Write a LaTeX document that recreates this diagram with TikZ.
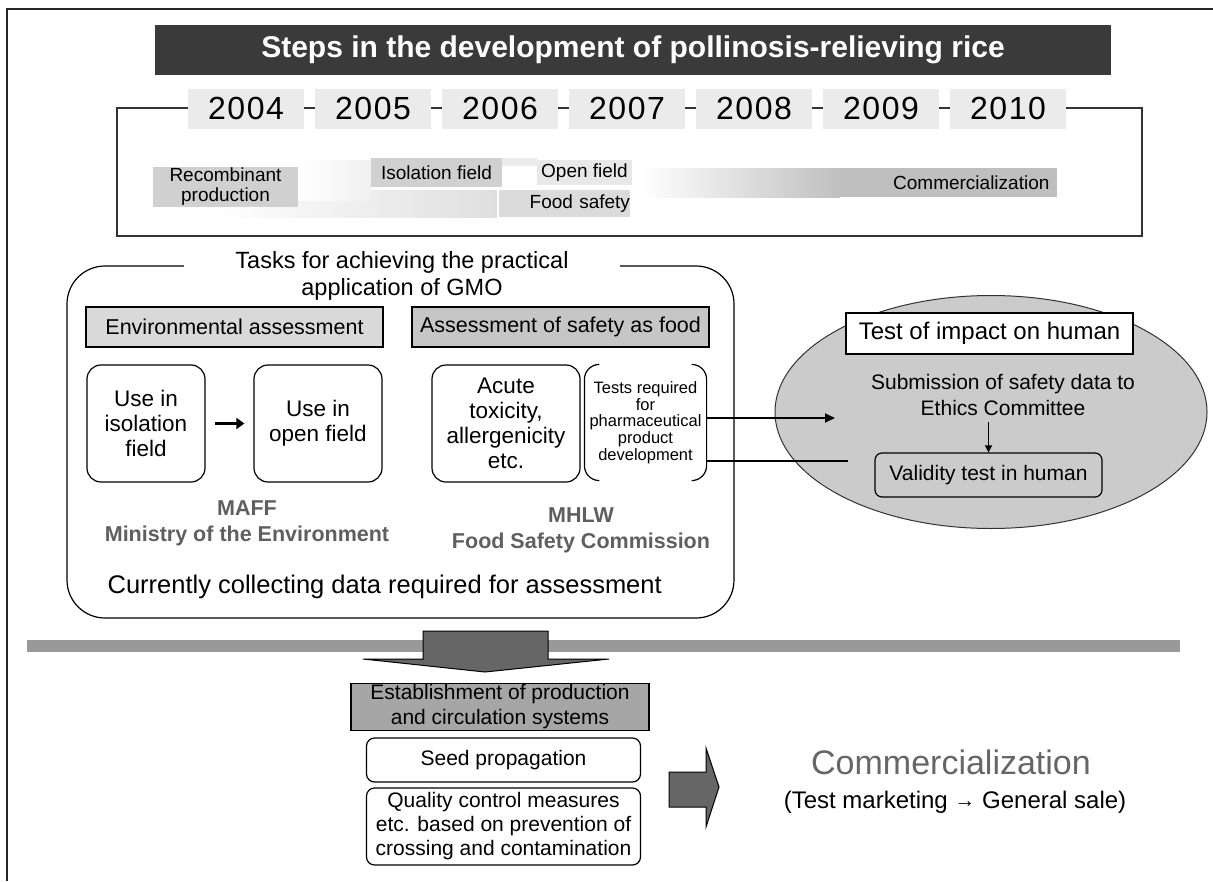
\documentclass[tikz,border=0pt]{standalone}
\usepackage{fontspec}
\setmainfont{Liberation Sans}
\newfontfamily\yearfont[LetterSpace=5]{Liberation Sans}
\usetikzlibrary{shapes.geometric,arrows.meta}
\definecolor{bardark}{HTML}{3A3A3A}
\definecolor{yearbg}{HTML}{EBEBEB}
\definecolor{stagebg}{HTML}{D0D0D0}
\definecolor{envbg}{HTML}{D9D9D9}
\definecolor{foodbg}{HTML}{C6C6C6}
\definecolor{ovalbg}{HTML}{CBCBCB}
\definecolor{estbg}{HTML}{A6A6A6}
\definecolor{blockarr}{HTML}{666666}
\definecolor{ministry}{HTML}{5F5F5F}
\definecolor{commtxt}{HTML}{666666}
\definecolor{rulebar}{HTML}{999999}
\newcommand\fsz[2]{\fontsize{#1}{#2}\selectfont}
\begin{document}
\begin{tikzpicture}[x=1pt,y=-1pt,line width=1.2pt,
  every node/.style={inner sep=0pt,align=center},
  yearbox/.style={fill=yearbg,minimum width=116,minimum height=40,font=\yearfont\fsz{32}{32}},
  stage/.style={fill=stagebg,font=\fsz{19}{20}},
  headbox/.style={draw,minimum width=297,minimum height=40,font=\fsz{21.5}{24}},
  taskbox/.style={draw,rounded corners=14,minimum height=117,font=\fsz{22.5}{25}},
  ministry/.style={text=ministry,font=\bfseries\fsz{21.5}{26}},
  plainbox/.style={draw,rounded corners=8,minimum width=274,font=\fsz{21}{24}},
  linkarrow/.style={line width=1.8pt,-{Triangle[length=10pt,width=9pt]}}]
\useasboundingbox (0,0) rectangle (1213,881);
% page frame
\draw[line width=1.3pt,black!85] (7,881) -- (7,9) -- (1213,9);
% title and time line
\node[fill=bardark,text=white,font=\bfseries\fsz{30}{32},minimum width=956,minimum height=50] (title) at (633,50) {Steps in the development of pollinosis-relieving rice};
\draw[black!80] (117,108) rectangle (1142,236);
\foreach \yr [count=\i from 0] in {2004,2005,2006,2007,2008,2009,2010}
  \node[yearbox] (y\yr) at (246+127*\i,108.5) {\yr};
\shade[left color=white,right color=gray!25] (212,190) rectangle (497,217);
\shade[left color=white,right color=gray!12] (298,160) rectangle (371,200);
\fill[gray!15] (502,158) rectangle (537,166);
\node[stage,minimum width=145,minimum height=40] (recomb) at (225.5,187) {Recombinant\\production};
\node[stage,minimum width=131,minimum height=29] (isol) at (436.5,172.5) {Isolation field};
\node[stage,fill=gray!18,minimum width=95,minimum height=25] (openf) at (584.5,172.5) {Open field};
\node[stage,fill=gray!28,text width=131,align=right,minimum height=27] (foods) at (564.5,203.5) {Food safety};
\shade[left color=white,right color=gray!50] (640,168) rectangle (840,197);
\fill[gray!50] (840,168) rectangle (1057,197);
\node[anchor=east,font=\fsz{19}{20}] (commbar) at (1050,182.5) {Commercialization};
% tasks
\draw[rounded corners=38] (67,266) rectangle (734,618);
\node[fill=white,minimum width=436,font=\fsz{23.5}{27}] (tasks) at (402,276) {Tasks for achieving the practical\\application of GMO};
\node[headbox,fill=envbg] (envas) at (234.5,327) {Environmental assessment};
\node[headbox,fill=foodbg] (foodas) at (560.5,327) {Assessment of safety as food};
\node[taskbox,minimum width=118] (isouse) at (146,423.5) {Use in\\isolation\\field};
\node[taskbox,minimum width=128] (openuse) at (318,423.5) {Use in\\open field};
\node[taskbox,minimum width=148] (acute) at (506,423.5) {Acute\\toxicity,\\allergenicity\\etc.};
\node[minimum width=121,minimum height=115,font=\fsz{16.5}{16.7}] (pharma) at (645.5,422.5) {Tests required\\for\\pharmaceutical\\product\\development};
\draw[rounded corners=15] ([xshift=15pt]pharma.north west) -- (pharma.north west) -- (pharma.south west) -- ([xshift=15pt]pharma.south west);
\draw[rounded corners=15] ([xshift=-15pt]pharma.north east) -- (pharma.north east) -- (pharma.south east) -- ([xshift=-15pt]pharma.south east);
\draw[line width=3pt,-{Triangle[length=8pt,width=11pt]},shorten <=9pt,shorten >=9pt] (isouse) -- (openuse);
\node[ministry] (maff) at (247,523) {MAFF\\Ministry of the Environment};
\node[ministry] (mhlw) at (581,530) {MHLW\\Food Safety Commission};
\node[anchor=west,font=\fsz{25.5}{28}] (collect) at (107,587) {Currently collecting data required for assessment};
% human test
\node[ellipse,draw=black!80,fill=ovalbg,line width=1pt,minimum width=432,minimum height=233] (human) at (991,412) {};
\node[draw,fill=white,minimum width=287,minimum height=41,font=\fsz{24}{26}] (impact) at (989.5,333.5) {Test of impact on human};
\node[font=\fsz{21}{26}] (subm) at (1003,395) {Submission of safety data to\\Ethics Committee};
\node[draw,rounded corners=7,minimum width=227,minimum height=44,font=\fsz{21}{24}] (valid) at (988.5,475) {Validity test in human};
\draw[line width=1.5pt,-{Triangle[length=7pt,width=7pt]},shorten <=6pt] (valid.north |- subm.south) -- (valid.north);
\coordinate (subin) at (835,418);
\coordinate (valin) at (848,461);
\draw[linkarrow] (subin -| pharma.east) -- (subin);
\draw[line width=1.8pt] (valin -| pharma.east) -- (valin);
% production
\fill[rulebar] (27,640) rectangle (1180,652);
\filldraw[fill=blockarr,line width=1pt] (423,631) -- (548,631) -- (548,659) -- (609,659) -- (485,672) -- (363,659) -- (423,659) -- cycle;
\node[draw,fill=estbg,minimum width=298,minimum height=47,font=\fsz{21}{25}] (estab) at (500,707) {Establishment of production\\and circulation systems};
\node[plainbox,minimum height=44] (seed) at (503.5,760) {Seed propagation};
\node[plainbox,minimum height=77] (quality) at (503.5,826.5) {Quality control measures\\etc. based on prevention of\\crossing and contamination};
\filldraw[fill=blockarr,line width=1pt] (669,772) -- (706,772) -- (706,748) -- (719,787) -- (706,827) -- (706,807) -- (669,807) -- cycle;
\node[text=commtxt,font=\fsz{34}{38}] (comm) at (951,762) {Commercialization};
\node[font=\fsz{24}{26}] (sale) at (955,802) {(Test marketing \raisebox{1pt}{\fsz{21}{21}→} General sale)};
\end{tikzpicture}
\end{document}
